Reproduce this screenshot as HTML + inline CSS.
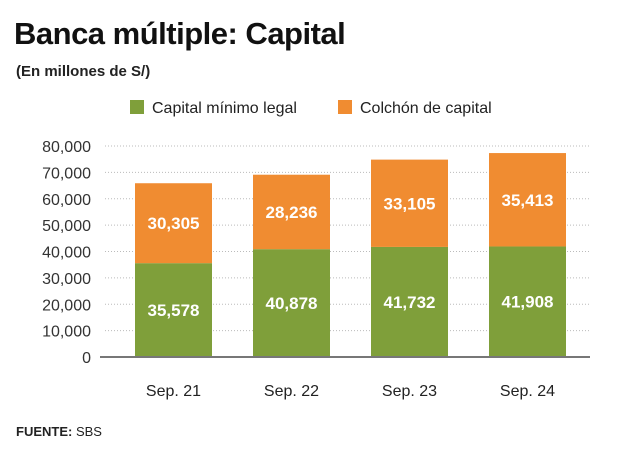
<!DOCTYPE html>
<html><head><meta charset="utf-8"><style>
body{margin:0;width:620px;height:462px;background:#fff;font-family:"Liberation Sans",sans-serif;position:relative;overflow:hidden}
.t{position:absolute;left:14px;top:16px;font-size:31px;font-weight:bold;color:#111;letter-spacing:-0.5px}
.s{position:absolute;left:16px;top:63px;font-size:15px;font-weight:bold;color:#222}
.f{position:absolute;left:16px;top:424px;font-size:13px;color:#222}
svg{position:absolute;left:0;top:0}
</style></head><body>
<div class="t">Banca múltiple: Capital</div>
<div class="s">(En millones de S/)</div>
<div class="f"><b>FUENTE:</b> SBS</div>
<svg id="c" width="620" height="462"></svg>
<script>
const categories=["Sep. 21","Sep. 22","Sep. 23","Sep. 24"];
const capitalMinimo=[35578,40878,41732,41908];
const colchon=[30305,28236,33105,35413];
const ticks=[0,10000,20000,30000,40000,50000,60000,70000,80000];
const NS="http://www.w3.org/2000/svg";
const svg=document.getElementById('c');
const y=v=>357-v*211/80000;
const x=i=>135+i*118;
const BW=77;
function mk(t,a,txt){const e=document.createElementNS(NS,t);for(const k in a)e.setAttribute(k,a[k]);if(txt!=null)e.textContent=txt;svg.appendChild(e);return e;}
ticks.forEach(v=>{
 if(v>0){const g=mk('line',{x1:105,x2:590,y1:y(v),y2:y(v),stroke:'#bbb','stroke-width':1,'stroke-dasharray':'1,2'});
 
 }
 const t=mk('text',{x:91,y:y(v)+6,'text-anchor':'end','font-size':16,fill:'#333'},v.toLocaleString('en-US'));
 
 
});
categories.forEach((c,i)=>{
 const a=capitalMinimo[i],b=colchon[i];
 const r1=mk('rect',{x:x(i),y:y(a),width:BW,height:y(0)-y(a),fill:'#7f9f3a'});
 
 
 const r2=mk('rect',{x:x(i),y:y(a+b),width:BW,height:y(a)-y(a+b),fill:'#f08c31'});
 
 
 const l1=mk('text',{x:x(i)+BW/2,y:(y(0)+y(a))/2+6,'text-anchor':'middle','font-size':17,'font-weight':'bold',fill:'#fff'},a.toLocaleString('en-US'));
 
 
 const l2=mk('text',{x:x(i)+BW/2,y:(y(a)+y(a+b))/2+6,'text-anchor':'middle','font-size':17,'font-weight':'bold',fill:'#fff'},b.toLocaleString('en-US'));
 
 
 const cl=mk('text',{x:x(i)+BW/2,y:396,'text-anchor':'middle','font-size':16,fill:'#222'},c);
 
 
});
const ax=mk('line',{x1:100,x2:590,y1:357,y2:357,stroke:'#777','stroke-width':2});


const lg1=mk('rect',{x:130,y:100,width:14,height:14,fill:'#7f9f3a'});


const lt1=mk('text',{x:152,y:113,'font-size':16,fill:'#222'},'Capital mínimo legal');


const lg2=mk('rect',{x:338,y:100,width:14,height:14,fill:'#f08c31'});


const lt2=mk('text',{x:360,y:113,'font-size':16,fill:'#222'},'Colchón de capital');


</script>
</body></html>
